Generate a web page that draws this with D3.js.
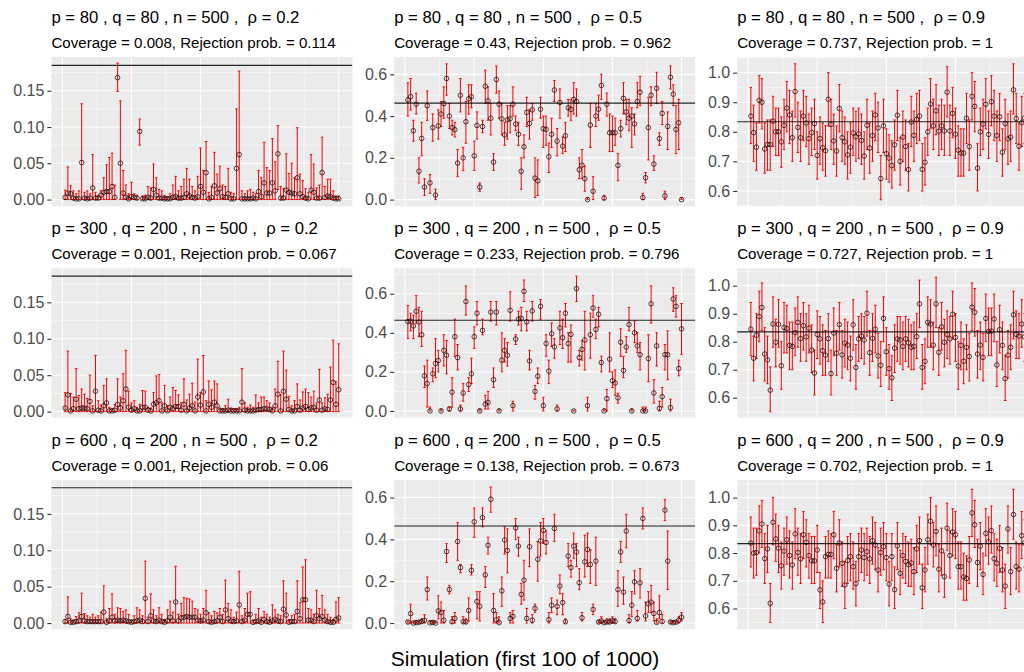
<!DOCTYPE html>
<html>
<head>
<meta charset="utf-8">
<script src="https://cdn.jsdelivr.net/npm/d3@7"></script>
<style>
  body { margin: 0; background: #fff; }
  svg { display: block; font-family: "Liberation Sans", Arial, sans-serif; }
</style>
</head>
<body>
<svg id="chart" width="1024" height="672"></svg>
<script>
// ----- DATA: [estimate, lower, upper] for the first 100 simulations of each panel -----
const ciA = [[.003,0,.013],[.009,0,.045],[.008,0,.019],[.002,0,.012],[.001,0,.008],[.001,0,.012],[.051,0,.132],[.002,0,.010],[.001,0,.012],[.002,0,.008],
[.016,0,.062],[.002,0,.010],[.002,0,.006],[.006,0,.012],[.010,0,.030],[.011,0,.048],[.011,0,.058],[.018,0,.064],[.003,0,.020],[.168,.149,.188],
[.050,0,.136],[.009,0,.040],[.003,0,.020],[.001,0,.008],[.004,0,.024],[.003,0,.008],[.002,0,.006],[.094,.075,.111],[.001,0,.005],[.001,0,.006],
[.003,0,.018],[.002,0,.016],[.014,0,.049],[.006,0,.030],[.002,0,.014],[.002,0,.012],[.001,0,.006],[.001,0,.004],[.001,0,.008],[.003,0,.020],
[.004,0,.032],[.002,0,.012],[.002,0,.018],[.003,0,.028],[.008,0,.043],[.005,0,.028],[.003,0,.018],[.002,0,.012],[.004,0,.032],[.018,0,.071],
[.010,0,.040],[.037,0,.080],[.001,0,.010],[.003,0,.018],[.019,0,.065],[.009,0,.035],[.015,0,.046],[.004,0,.020],[.003,0,.018],[.008,0,.043],
[.001,0,.010],[.001,0,.008],[.043,0,.125],[.062,0,.177],[.001,0,.012],[.001,0,.008],[.001,0,.012],[.001,0,.014],[.002,0,.010],[.001,0,.008],
[.011,0,.040],[.004,0,.030],[.023,0,.079],[.009,0,.044],[.009,0,.040],[.023,0,.084],[.012,0,.052],[.063,.014,.102],[.002,0,.018],[.002,0,.015],
[.013,0,.063],[.010,0,.036],[.009,0,.050],[.008,0,.030],[.030,0,.099],[.008,0,.035],[.004,0,.026],[.002,0,.015],[.001,0,.010],[.013,0,.062],
[.010,0,.049],[.002,0,.016],[.002,0,.020],[.037,0,.086],[.003,0,.018],[.005,0,.028],[.004,0,.028],[.002,0,.012],[.001,0,.005],[.001,0,.005]];

const ciB = [[.478,.40,.56],[.493,.43,.58],[.33,.28,.38],[.457,.41,.51],[.136,.08,.20],[.293,.21,.37],[.06,.02,.10],[.45,.38,.52],[.08,.03,.12],[.345,.28,.41],
[.022,0,.05],[.353,.29,.43],[.41,.35,.47],[.46,.39,.54],[.58,.50,.65],[.40,.34,.46],[.345,.31,.38],[.335,.30,.37],[.175,.11,.24],[.50,.42,.58],
[.20,.14,.25],[.373,.27,.47],[.483,.41,.55],[.493,.44,.55],[.21,.14,.28],[.355,.29,.42],[.06,.04,.08],[.35,.32,.38],[.543,.46,.62],[.473,.38,.54],
[.39,.31,.46],[.18,.14,.22],[.575,.51,.64],[.457,.39,.52],[.387,.31,.46],[.31,.26,.37],[.382,.29,.45],[.387,.32,.45],[.457,.40,.54],[.362,.33,.40],
[.313,.26,.37],[.136,.05,.20],[.253,.20,.31],[.418,.35,.49],[.365,.29,.43],[.43,.38,.46],[.103,.01,.20],[.09,.02,.19],[.433,.39,.49],[.34,.25,.40],
[.336,.26,.40],[.205,.13,.27],[.313,.25,.39],[.525,.47,.57],[.28,.21,.34],[.465,.39,.53],[.256,.22,.30],[.306,.23,.37],[.44,.40,.48],[.432,.38,.48],
[.48,.41,.56],[.47,.40,.53],[.143,.10,.20],[.165,.10,.24],[.10,.04,.16],[0,0,.01],[.357,.25,.46],[.04,0,.11],[.40,.35,.46],[.433,.38,.50],
[.547,.48,.60],[.007,0,.02],[.457,.40,.51],[.32,.23,.41],[.32,.23,.40],[.32,.26,.39],[.164,.09,.22],[.34,.30,.38],[.485,.41,.56],[.42,.36,.48],
[.39,.33,.48],[.40,.25,.44],[.363,.31,.41],[.47,.44,.56],[.514,.45,.59],[.01,0,.03],[.105,.08,.13],[.345,.19,.49],[.50,.45,.54],[.17,.14,.21],
[.533,.46,.61],[.292,.26,.32],[.413,.36,.47],[.018,0,.04],[.35,.24,.42],[.586,.53,.64],[.505,.45,.55],[.336,.22,.45],[.368,.24,.48],[0,0,.01]];

const ciC = [[.853,.76,.95],[.797,.70,.89],[.748,.67,.83],[.906,.83,.99],[.90,.81,.98],[.742,.66,.83],[.757,.67,.84],[.757,.67,.84],[.836,.75,.92],[.80,.72,.88],
[.80,.72,.88],[.766,.68,.85],[.822,.74,.91],[.88,.80,.97],[.857,.76,.94],[.78,.70,.87],[.936,.85,1.03],[.815,.73,.90],[.78,.70,.87],[.853,.77,.94],
[.83,.75,.92],[.777,.69,.86],[.797,.72,.88],[.828,.74,.91],[.72,.64,.80],[.777,.69,.85],[.746,.67,.83],[.736,.65,.82],[.91,.82,1.0],[.825,.74,.91],
[.769,.69,.86],[.735,.65,.82],[.879,.80,.96],[.78,.70,.87],[.766,.69,.85],[.722,.64,.80],[.748,.66,.83],[.796,.72,.88],[.783,.70,.87],[.793,.71,.88],
[.771,.69,.86],[.718,.64,.80],[.822,.74,.91],[.745,.66,.83],[.787,.70,.87],[.857,.77,.93],[.813,.73,.90],[.642,.57,.72],[.82,.73,.91],[.726,.64,.81],
[.711,.63,.79],[.686,.61,.77],[.756,.67,.84],[.856,.77,.94],[.70,.62,.78],[.782,.70,.87],[.75,.67,.84],[.672,.60,.76],[.833,.75,.92],[.788,.70,.87],
[.842,.76,.93],[.853,.77,.94],[.673,.60,.76],[.697,.62,.78],[.80,.72,.88],[.894,.81,.98],[.82,.74,.91],[.871,.79,.96],[.802,.72,.89],[.82,.74,.91],
[.803,.72,.89],[.934,.85,1.02],[.803,.72,.89],[.862,.78,.95],[.792,.71,.88],[.738,.65,.82],[.728,.65,.81],[.728,.65,.81],[.846,.76,.93],[.75,.67,.84],
[.92,.84,1.0],[.886,.80,.97],[.677,.60,.76],[.80,.72,.88],[.826,.74,.91],[.893,.81,.98],[.791,.71,.87],[.902,.82,.99],[.853,.77,.94],[.787,.70,.87],
[.851,.77,.93],[.731,.65,.81],[.828,.74,.91],[.776,.69,.86],[.782,.70,.87],[.942,.86,1.03],[.845,.76,.93],[.751,.67,.83],[.831,.75,.92],[.847,.76,.93]];

const ciD = [[.005,0,.026],[.023,0,.083],[.001,0,.025],[.004,0,.020],[.017,0,.059],[.004,0,.022],[.005,0,.031],[.005,0,.024],[.004,0,.018],[.014,0,.050],
[.001,0,.008],[.028,0,.077],[.002,0,.015],[.001,0,.009],[.008,0,.036],[.012,0,.045],[.001,0,.006],[.001,0,.004],[.002,0,.010],[.010,0,.045],
[.005,0,.020],[.015,0,.052],[.031,0,.084],[.006,0,.028],[.002,0,.012],[.004,0,.015],[.001,0,.006],[.001,0,.010],[.006,0,.029],[.006,0,.028],
[.002,0,.006],[.001,0,.005],[.010,0,.026],[.012,0,.049],[.015,0,.051],[.001,0,.012],[.008,0,.036],[.001,0,.008],[.006,0,.020],[.004,0,.033],
[.007,0,.029],[.007,0,.023],[.002,0,.012],[.010,0,.045],[.001,0,.016],[.005,0,.024],[.008,0,.039],[.001,0,.013],[.020,0,.072],[.009,0,.026],
[.027,0,.077],[.001,0,.015],[.010,0,.042],[.006,0,.030],[.013,0,.042],[.008,0,.038],[.001,0,.005],[.001,0,.004],[.001,0,.008],[.002,0,.017],
[.001,0,.005],[.001,0,.004],[.001,0,.004],[.001,0,.006],[.013,0,.059],[.002,0,.012],[.001,0,.006],[.001,0,.009],[.001,0,.006],[.002,0,.023],
[.003,0,.012],[.003,0,.020],[.004,0,.020],[.004,0,.015],[.003,0,.012],[.001,0,.006],[.008,0,.031],[.024,0,.069],[.001,0,.023],[.028,0,.083],
[.017,0,.057],[.003,0,.021],[.001,0,.008],[.001,0,.015],[.007,0,.038],[.002,0,.016],[.005,0,.027],[.007,0,.031],[.003,0,.026],[.005,0,.020],
[.006,0,.028],[.002,0,.012],[.016,0,.058],[.002,0,.012],[.004,0,.019],[.003,0,.024],[.016,0,.061],[.040,0,.098],[.010,0,.041],[.030,0,.093]];

const ciE = [[.458,.37,.54],[.46,.41,.50],[.435,.37,.49],[.51,.45,.59],[.455,.38,.53],[.39,.33,.51],[.18,.12,.23],[.14,.02,.26],[0,0,.02],[.19,.15,.22],
[.243,.17,.37],[.258,.20,.31],[0,0,.01],[.31,.23,.39],[.285,.19,.36],[.01,0,.02],[.096,.02,.17],[.38,.28,.47],[.273,.21,.34],[.01,0,.03],
[.092,.05,.14],[.56,.49,.64],[.135,.10,.17],[.19,.14,.27],[.38,.32,.43],[.50,.44,.56],[0,0,.01],[.412,.39,.47],[.035,.01,.08],[.044,.01,.10],
[.506,.46,.56],[.16,.12,.22],[.506,.44,.56],[0,0,.01],[.26,.20,.40],[.31,.25,.37],[.285,.23,.35],[.515,.46,.61],[.027,0,.05],[.368,.34,.39],
[.47,.44,.51],[.474,.41,.53],[.612,.56,.67],[.456,.41,.51],[.256,.21,.31],[.512,.46,.56],[.10,.06,.13],[.178,.14,.22],[.535,.47,.57],[.027,0,.07],
[.345,.28,.39],[.204,.14,.26],[.395,.33,.45],[.328,.27,.37],[.01,0,.03],[.425,.34,.51],[.375,.32,.47],[.50,.43,.55],[.345,.25,.40],[.392,.25,.44],
[0,0,.003],[.626,.56,.69],[.273,.23,.31],[.315,.26,.36],[.363,.21,.51],[.027,0,.07],[.39,.27,.50],[.527,.48,.59],[.417,.37,.47],[.495,.43,.53],
[.248,.20,.28],[0,0,.01],[.063,0,.11],[.265,.20,.40],[.155,.12,.20],[.143,.08,.21],[.067,.04,.09],[.352,.28,.42],[.207,.17,.28],[.327,.30,.38],
[.442,.41,.53],[0,0,.01],[.40,.35,.46],[.333,.30,.40],[.288,.21,.35],[0,0,.02],[0,0,.02],[.268,.15,.39],[.548,.45,.64],[.092,.04,.16],
[.333,.23,.40],[.013,0,.05],[.073,.02,.12],[.288,.21,.34],[.288,.16,.41],[.017,0,.06],[.573,.51,.63],[.535,.48,.59],[.217,.18,.26],[.42,.29,.55]];

const ciF = [[.845,.75,.94],[.741,.66,.82],[.823,.74,.90],[.89,.80,.98],[.922,.84,1.01],[.756,.66,.85],[.735,.65,.82],[.627,.55,.71],[.863,.78,.96],[.798,.71,.88],
[.862,.78,.95],[.714,.63,.80],[.851,.76,.94],[.847,.76,.93],[.787,.70,.87],[.783,.70,.87],[.833,.75,.92],[.869,.78,.96],[.811,.73,.90],[.857,.77,.94],
[.817,.73,.90],[.848,.76,.93],[.77,.69,.86],[.688,.61,.77],[.826,.74,.91],[.81,.72,.89],[.768,.68,.86],[.752,.68,.84],[.811,.73,.90],[.686,.61,.77],
[.831,.75,.92],[.759,.68,.84],[.861,.77,.94],[.753,.67,.84],[.795,.71,.88],[.788,.70,.87],[.741,.66,.82],[.86,.77,.95],[.708,.63,.79],[.81,.73,.89],
[.82,.74,.90],[.806,.72,.89],[.902,.82,.98],[.761,.68,.84],[.812,.73,.90],[.845,.76,.93],[.749,.67,.83],[.716,.64,.80],[.883,.80,.96],[.764,.68,.85],
[.704,.63,.79],[.671,.59,.75],[.777,.69,.86],[.81,.73,.89],[.806,.72,.89],[.783,.70,.87],[.81,.73,.89],[.796,.71,.88],[.78,.70,.86],[.783,.70,.87],
[.818,.74,.90],[.935,.85,1.02],[.708,.63,.79],[.73,.65,.81],[.869,.78,.96],[.863,.78,.95],[.788,.70,.87],[.935,.85,1.03],[.762,.68,.85],[.853,.77,.94],
[.798,.71,.88],[.826,.74,.91],[.81,.72,.89],[.898,.81,.98],[.815,.73,.90],[.713,.63,.80],[.787,.70,.87],[.73,.65,.81],[.78,.70,.86],[.747,.66,.83],
[.923,.84,1.01],[.905,.82,.99],[.756,.67,.84],[.788,.70,.87],[.744,.66,.83],[.883,.80,.97],[.836,.75,.92],[.838,.75,.92],[.881,.80,.97],[.717,.64,.80],
[.843,.76,.93],[.787,.70,.87],[.668,.59,.75],[.752,.67,.84],[.78,.70,.86],[.896,.81,.98],[.826,.74,.91],[.82,.74,.90],[.863,.78,.95],[.817,.73,.90]];

const ciG = [[.002,0,.005],[.009,0,.036],[.001,0,.006],[.001,0,.004],[.002,0,.009],[.003,0,.014],[.009,0,.041],[.003,0,.013],[.002,0,.010],[.002,0,.008],
[.002,0,.012],[.002,0,.008],[.002,0,.010],[.002,0,.015],[.015,0,.051],[.001,0,.006],[.003,0,.020],[.008,0,.040],[.003,0,.012],[.004,0,.021],
[.003,0,.020],[.004,0,.016],[.003,0,.018],[.002,0,.012],[.001,0,.004],[.002,0,.010],[.003,0,.021],[.004,0,.018],[.002,0,.010],[.034,0,.085],
[.002,0,.008],[.010,0,.040],[.003,0,.018],[.002,0,.010],[.004,0,.021],[.002,0,.012],[.001,0,.005],[.003,0,.018],[.008,0,.030],[.003,0,.015],
[.029,0,.078],[.003,0,.012],[.007,0,.027],[.008,0,.035],[.009,0,.034],[.008,0,.033],[.008,0,.030],[.008,0,.020],[.004,0,.018],[.003,0,.012],
[.004,0,.020],[.014,0,.045],[.002,0,.014],[.001,0,.010],[.002,0,.016],[.003,0,.014],[.008,0,.020],[.002,0,.012],[.018,0,.059],[.006,0,.027],
[.003,0,.018],[.002,0,.008],[.003,0,.015],[.025,0,.071],[.002,0,.010],[.004,0,.020],[.012,0,.041],[.012,0,.043],[.001,0,.004],[.002,0,.012],
[.003,0,.020],[.001,0,.008],[.005,0,.016],[.002,0,.012],[.001,0,.008],[.003,0,.025],[.005,0,.018],[.003,0,.012],[.002,0,.010],[.019,0,.058],
[.011,0,.041],[.001,0,.005],[.002,0,.010],[.002,0,.012],[.016,0,.058],[.006,0,.028],[.032,0,.077],[.032,0,.087],[.004,0,.020],[.004,0,.018],
[.002,0,.012],[.010,0,.045],[.006,0,.020],[.009,0,.038],[.004,0,.018],[.002,0,.012],[.001,0,.008],[.001,0,.005],[.005,0,.029],[.007,0,.035]];

const ciH = [[.005,0,.01],[.045,0,.09],[0,0,.005],[.002,0,.01],[.004,0,.01],[.007,0,.02],[.013,0,.04],[.16,.11,.22],[.001,0,.01],[.003,0,.01],
[0,0,.005],[.058,.02,.13],[.05,0,.10],[.013,0,.06],[.342,.29,.38],[.16,.14,.18],[.006,0,.03],[.022,0,.05],[.39,.30,.48],[.265,.24,.28],
[.006,0,.03],[.005,0,.02],[.06,.01,.12],[.252,.23,.28],[.484,.41,.55],[.103,.02,.15],[.08,.01,.15],[.504,.46,.55],[.23,.17,.27],[.372,.33,.41],
[.592,.53,.65],[.06,0,.14],[.015,0,.05],[.002,0,.03],[.154,.08,.22],[.397,.33,.46],[.347,.24,.45],[.022,0,.05],[.032,0,.06],[.455,.40,.50],
[.368,.32,.41],[.137,.09,.19],[.205,.11,.30],[.022,0,.07],[.365,.27,.45],[.013,0,.04],[.07,.05,.09],[.305,.20,.39],[.393,.32,.48],[.443,.38,.50],
[.385,.33,.44],[.016,0,.05],[.085,.05,.12],[.452,.39,.52],[.08,.04,.11],[.177,.14,.23],[.098,.04,.14],[.006,0,.02],[.32,.27,.38],[.265,.22,.30],
[.368,.31,.43],[.34,.27,.38],[.193,.16,.26],[.025,.01,.05],[.293,.22,.42],[.352,.27,.43],[.28,.19,.35],[.065,.04,.09],[.296,.18,.41],[.005,0,.01],
[.01,0,.03],[.002,0,.01],[.005,0,.02],[.005,0,.02],[.01,0,.03],[.007,0,.02],[.16,.08,.25],[.34,.29,.39],[.148,.09,.22],[.44,.36,.52],
[.012,0,.04],[.085,.03,.15],[.197,.14,.25],[.022,.01,.06],[.192,.12,.26],[.50,.45,.55],[.034,.01,.10],[.092,.05,.15],[.1,.05,.18],[.046,.01,.10],
[.003,0,.02],[.05,.02,.13],[.007,0,.04],[.54,.49,.59],[.296,.16,.44],[.005,0,.01],[.002,0,.01],[.004,0,.01],[.013,0,.03],[.028,.01,.05]];

const ciI = [[.836,.75,.93],[.80,.71,.89],[.802,.72,.89],[.88,.80,.97],[.905,.82,.99],[.78,.69,.87],[.815,.73,.90],[.619,.55,.69],[.911,.83,1.0],[.851,.77,.94],
[.818,.73,.90],[.754,.67,.84],[.807,.72,.89],[.848,.76,.93],[.791,.71,.88],[.757,.67,.84],[.869,.78,.96],[.802,.72,.89],[.779,.69,.87],[.866,.78,.95],
[.839,.75,.92],[.791,.71,.87],[.772,.69,.86],[.772,.69,.86],[.811,.73,.90],[.667,.60,.73],[.624,.55,.70],[.787,.71,.86],[.795,.71,.88],[.795,.71,.87],
[.866,.78,.95],[.745,.66,.83],[.836,.75,.92],[.763,.68,.84],[.685,.60,.77],[.773,.69,.86],[.787,.70,.87],[.751,.67,.84],[.69,.61,.77],[.787,.70,.87],
[.811,.73,.89],[.784,.70,.87],[.805,.72,.89],[.779,.69,.86],[.845,.76,.93],[.829,.74,.91],[.739,.66,.82],[.802,.72,.89],[.823,.74,.91],[.784,.70,.87],
[.688,.61,.77],[.787,.70,.87],[.668,.60,.75],[.826,.74,.91],[.727,.65,.81],[.791,.71,.87],[.77,.69,.86],[.758,.68,.84],[.764,.68,.85],[.733,.65,.82],
[.815,.73,.90],[.845,.76,.93],[.675,.60,.76],[.739,.66,.82],[.848,.76,.94],[.915,.83,1.0],[.829,.75,.91],[.878,.79,.97],[.742,.66,.83],[.808,.72,.89],
[.715,.64,.80],[.89,.81,.98],[.791,.71,.88],[.876,.79,.96],[.866,.78,.95],[.751,.67,.84],[.751,.67,.84],[.714,.63,.80],[.708,.63,.79],[.775,.69,.86],
[.945,.86,1.03],[.902,.82,.99],[.766,.68,.85],[.825,.74,.91],[.723,.65,.80],[.871,.79,.96],[.841,.76,.93],[.881,.80,.97],[.78,.70,.87],[.763,.68,.85],
[.817,.73,.90],[.739,.66,.82],[.681,.60,.76],[.887,.80,.97],[.733,.65,.82],[.939,.85,1.03],[.751,.67,.84],[.742,.66,.83],[.863,.78,.95],[.836,.75,.92]];

const panelData = [ciA, ciB, ciC, ciD, ciE, ciF, ciG, ciH, ciI];

const titles = [
  "p = 80 , q = 80 , n = 500 ,  ρ = 0.2", "p = 80 , q = 80 , n = 500 ,  ρ = 0.5", "p = 80 , q = 80 , n = 500 ,  ρ = 0.9",
  "p = 300 , q = 200 , n = 500 ,  ρ = 0.2", "p = 300 , q = 200 , n = 500 ,  ρ = 0.5", "p = 300 , q = 200 , n = 500 ,  ρ = 0.9",
  "p = 600 , q = 200 , n = 500 ,  ρ = 0.2", "p = 600 , q = 200 , n = 500 ,  ρ = 0.5", "p = 600 , q = 200 , n = 500 ,  ρ = 0.9"];
const subtitles = [
  "Coverage = 0.008, Rejection prob. = 0.114", "Coverage = 0.43, Rejection prob. = 0.962", "Coverage = 0.737, Rejection prob. = 1",
  "Coverage = 0.001, Rejection prob. = 0.067", "Coverage = 0.233, Rejection prob. = 0.796", "Coverage = 0.727, Rejection prob. = 1",
  "Coverage = 0.001, Rejection prob. = 0.06", "Coverage = 0.138, Rejection prob. = 0.673", "Coverage = 0.702, Rejection prob. = 1"];
const truth = [0.185, 0.462, 0.834, 0.186, 0.464, 0.835, 0.186, 0.464, 0.834];
const yDomains = [[-0.0093, 0.1965], [-0.032, 0.683], [0.548, 1.053],
                  [-0.0082, 0.1967], [-0.034, 0.73], [0.529, 1.062],
                  [-0.0086, 0.1966], [-0.030, 0.684], [0.525, 1.0636]];
const yMajor = [[0, 0.05, 0.10, 0.15], [0, 0.2, 0.4, 0.6], [0.6, 0.7, 0.8, 0.9, 1.0]];
const yMinor = [[0.025, 0.075, 0.125, 0.175], [0.1, 0.3, 0.5, 0.7], [0.55, 0.65, 0.75, 0.85, 0.95, 1.05]];
const yFormat = [".2f", ".1f", ".1f"];
const xMajor = [0, 25, 50, 75, 100];
const xMinor = [12.5, 37.5, 62.5, 87.5];
const xLabel = "Simulation (first 100 of 1000)";

// ----- LAYOUT -----
const colLeft = [51.4, 394.2, 737.2];
const rowTop = [57, 268.3, 480];
const pw = 301, ph = 149.3;

const svg = d3.select("#chart");
svg.append("rect").attr("width", 1024).attr("height", 672).attr("fill", "#fff");

panelData.forEach((data, k) => {
  const col = k % 3, row = Math.floor(k / 3);
  const g = svg.append("g").attr("transform", `translate(${colLeft[col]},${rowTop[row]})`);

  const x = d3.scaleLinear().domain([-3.95, 104.95]).range([0, pw]);
  const y = d3.scaleLinear().domain(yDomains[k]).range([ph, 0]);
  const inY = v => v >= yDomains[k][0] && v <= yDomains[k][1];

  // panel background + clip
  g.append("rect").attr("width", pw).attr("height", ph).attr("fill", "#EBEBEB");
  g.append("clipPath").attr("id", "clip" + k)
    .append("rect").attr("width", pw).attr("height", ph);
  const body = g.append("g").attr("clip-path", `url(#clip${k})`);

  // grid lines
  body.selectAll(".ymin").data(yMinor[col].filter(inY)).enter().append("line")
    .attr("x1", 0).attr("x2", pw).attr("y1", d => y(d)).attr("y2", d => y(d))
    .attr("stroke", "#fff").attr("stroke-width", 0.55);
  body.selectAll(".xmin").data(xMinor).enter().append("line")
    .attr("y1", 0).attr("y2", ph).attr("x1", d => x(d)).attr("x2", d => x(d))
    .attr("stroke", "#fff").attr("stroke-width", 0.55);
  body.selectAll(".ymaj").data(yMajor[col].filter(inY)).enter().append("line")
    .attr("x1", 0).attr("x2", pw).attr("y1", d => y(d)).attr("y2", d => y(d))
    .attr("stroke", "#fff").attr("stroke-width", 1.1);
  body.selectAll(".xmaj").data(xMajor).enter().append("line")
    .attr("y1", 0).attr("y2", ph).attr("x1", d => x(d)).attr("x2", d => x(d))
    .attr("stroke", "#fff").attr("stroke-width", 1.1);

  // error bars
  const bars = body.append("g").attr("stroke", "#FF0000").attr("stroke-width", 1).attr("fill", "none");
  bars.selectAll("path").data(data).enter().append("path")
    .attr("d", (d, i) => {
      const xi = x(i + 1), xa = x(i + 1 - 0.45), xb = x(i + 1 + 0.45);
      return `M${xa},${y(d[2])}H${xb}M${xi},${y(d[2])}V${y(d[1])}M${xa},${y(d[1])}H${xb}`;
    });

  // points
  body.append("g").selectAll("circle").data(data).enter().append("circle")
    .attr("cx", (d, i) => x(i + 1))
    .attr("cy", d => y(d[0]))
    .attr("r", 2.3)
    .attr("fill", "none")
    .attr("stroke", "#000")
    .attr("stroke-opacity", 0.7)
    .attr("stroke-width", 1);

  // true value
  body.append("line")
    .attr("x1", 0).attr("x2", pw).attr("y1", y(truth[k])).attr("y2", y(truth[k]))
    .attr("stroke", "#000").attr("stroke-opacity", 0.85).attr("stroke-width", 1.1);

  // y axis
  const yAxis = d3.axisLeft(y).tickValues(yMajor[col].filter(inY))
    .tickFormat(d3.format(yFormat[col])).tickSize(4).tickPadding(3);
  const ag = g.append("g").call(yAxis);
  ag.select(".domain").remove();
  ag.selectAll(".tick line").attr("stroke", "#333333").attr("stroke-width", 1.1);
  ag.selectAll(".tick text").attr("fill", "#4D4D4D")
    .style("font-size", "16px").style("font-family", "'Liberation Sans', Arial, sans-serif");

  // titles
  g.append("text").attr("x", 0).attr("y", -34.5)
    .style("white-space", "pre").style("font-size", "16.7px").attr("fill", "#000")
    .text(titles[k]);
  g.append("text").attr("x", 0).attr("y", -9.5)
    .style("white-space", "pre").style("font-size", "15.1px").attr("fill", "#000")
    .text(subtitles[k]);
});

// x axis title
svg.append("text")
  .attr("x", 525).attr("y", 666)
  .attr("text-anchor", "middle")
  .style("font-size", "21px")
  .attr("fill", "#000")
  .text(xLabel);
</script>
</body>
</html>
